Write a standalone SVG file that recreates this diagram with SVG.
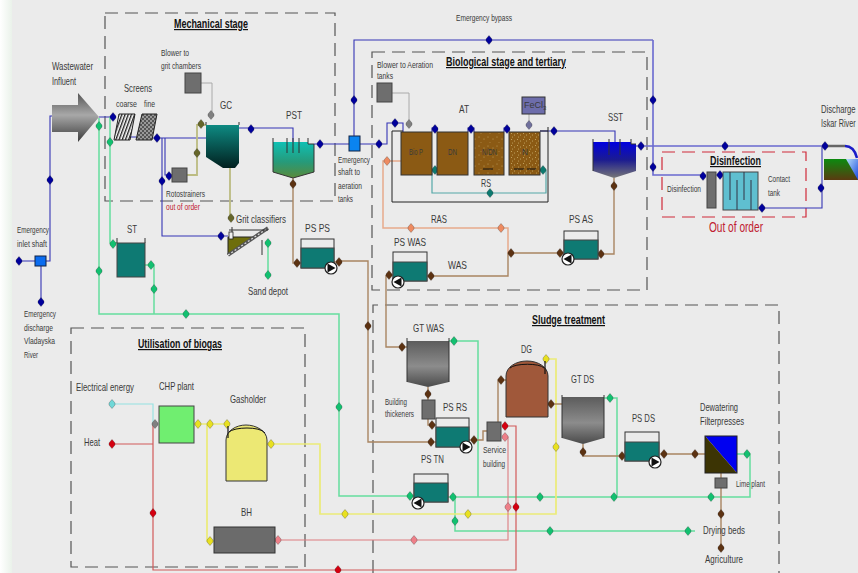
<svg xmlns="http://www.w3.org/2000/svg" xmlns:xlink="http://www.w3.org/1999/xlink" width="858" height="573" viewBox="0 0 858 573">
<style>
text{font-family:"Liberation Sans",Arial,sans-serif;fill:#3a3a3a}
.s{font-size:9px}.m{font-size:11px}
.b{font-size:12px;font-weight:bold;fill:#111;text-decoration:underline}
.r{fill:#c02030}
.fr{fill:none;stroke:#555;stroke-width:1.2;stroke-dasharray:13 7}
.c{fill:none}
.bl{stroke:#3535b5;stroke-width:1.1}.bw{stroke:#6a6ad0;stroke-width:1.6}
.gn{stroke:#66de9e;stroke-width:1.5}.ye{stroke:#ecec78;stroke-width:1.7}
.rd{stroke:#d25a5a;stroke-width:1.2}.pk{stroke:#dd7d80;stroke-width:1.1}
.br{stroke:#a98562;stroke-width:1.4}.ra{stroke:#e8ab8c;stroke-width:1.5}
.ol{stroke:#bcbc82;stroke-width:1.8}.te{stroke:#55a8a8;stroke-width:1.2}
.gy{stroke:#aaa;stroke-width:1}.cy{stroke:#93e2e2;stroke-width:1.1}
.vb{fill:#00009c}.vg{fill:#12c070}.vy{fill:#e8e020}.vr{fill:#d40010}.vp{fill:#ee7f88}
.vn{fill:#5c3212}.vo{fill:#ee8a60}.vl{fill:#66662a}.vt{fill:#0d7a70}.va{fill:#808080}.vc{fill:#70d8d8}.vu{fill:#70709c}
.box{fill:#6e6e6e;stroke:#444;stroke-width:1}
.tk{fill:#0e7a73;stroke:#444;stroke-width:1}
.wl{fill:none;stroke:#333;stroke-width:1}
.p{fill:#fff;stroke:#222;stroke-width:1.2}
</style>
<defs>
<path id="v" d="M0-4.5 3-1V1L0 4.5-3 1V-1Z" stroke="#333" stroke-width=".3"/>
<path id="pr" d="M-3.5-4.5 4.5 0-3.5 4.5Z" fill="#111"/>
<linearGradient id="side" x1="0" y1="0" x2="1" y2="0"><stop offset="0" stop-color="#fff"/><stop offset="1" stop-color="#eaf2ea"/></linearGradient>
<linearGradient id="arr" x1="0" y1="0" x2="0" y2="1"><stop offset="0" stop-color="#555"/><stop offset=".45" stop-color="#a8a8a8"/><stop offset="1" stop-color="#3a3a3a"/></linearGradient>
<linearGradient id="gc" x1="0" y1="0" x2="0" y2="1"><stop offset="0" stop-color="#0e8a82"/><stop offset="1" stop-color="#01201f"/></linearGradient>
<linearGradient id="pst" x1="0" y1="0" x2="0" y2="1"><stop offset="0" stop-color="#0fc0b4"/><stop offset=".55" stop-color="#269a7a"/><stop offset="1" stop-color="#5a8a3a"/></linearGradient>
<linearGradient id="sst" x1="0" y1="0" x2="0" y2="1"><stop offset="0" stop-color="#0000e0"/><stop offset=".5" stop-color="#1c1c90"/><stop offset="1" stop-color="#777"/></linearGradient>
<linearGradient id="gt" x1="0" y1="0" x2="0" y2="1"><stop offset="0" stop-color="#5c5c5c"/><stop offset=".55" stop-color="#8c8c8c"/><stop offset="1" stop-color="#4a4a4a"/></linearGradient>
<linearGradient id="riv" x1="0" y1="0" x2="0" y2="1"><stop offset="0" stop-color="#0c8a10"/><stop offset="1" stop-color="#5a3a10"/></linearGradient>
<linearGradient id="wat" x1="0" y1="0" x2="1" y2="1"><stop offset="0" stop-color="#b8e0f8"/><stop offset="1" stop-color="#1848e0"/></linearGradient>
<pattern id="hatch" width="3" height="3" patternUnits="userSpaceOnUse" patternTransform="rotate(20)"><rect width="3" height="3" fill="#fff"/><rect width="1.4" height="3" fill="#222"/></pattern>
<pattern id="chk" width="4" height="4" patternUnits="userSpaceOnUse"><rect width="4" height="4" fill="#999"/><rect width="2" height="2" fill="#555"/><rect x="2" y="2" width="2" height="2" fill="#555"/></pattern>
<pattern id="sp1" width="9" height="9" patternUnits="userSpaceOnUse"><rect width="9" height="9" fill="#8b5a14"/><circle cx="2" cy="2" r=".4" fill="#f0e0a0"/><circle cx="7" cy="4" r=".4" fill="#f0e0a0"/><circle cx="4" cy="7.5" r=".35" fill="#f0e0a0"/></pattern>
<pattern id="sp2" width="6" height="6" patternUnits="userSpaceOnUse"><rect width="6" height="6" fill="#8b5a14"/><circle cx="1.5" cy="1.5" r=".45" fill="#f6e8a8"/><circle cx="4.5" cy="3" r=".45" fill="#f6e8a8"/><circle cx="2.5" cy="5" r=".4" fill="#f6e8a8"/></pattern>
</defs>
<rect width="858" height="573" fill="#ebebeb"/>
<rect width="12" height="573" fill="url(#side)"/>

<g id="frames">
<rect class="fr" x="105" y="13" width="230" height="188"/>
<rect class="fr" x="372" y="52" width="275" height="238"/>
<rect class="fr" x="71" y="328" width="234" height="239"/>
<path class="fr" d="M373 573V305H779V573"/>
<rect class="fr" x="662" y="152" width="144" height="65" style="stroke:#d02a3a"/>
<text class="b" x="174" y="28" textLength="74" lengthAdjust="spacingAndGlyphs">Mechanical stage</text>
<text class="b" x="446" y="66" textLength="120" lengthAdjust="spacingAndGlyphs">Biological stage and tertiary</text>
<text class="b" x="138" y="348" textLength="84" lengthAdjust="spacingAndGlyphs">Utilisation of biogas</text>
<text class="b" x="532" y="324" textLength="73" lengthAdjust="spacingAndGlyphs">Sludge treatment</text>
<text class="b" x="710" y="165" textLength="51" lengthAdjust="spacingAndGlyphs">Disinfection</text>
</g>

<g id="connectors">
<path class="c bl" d="M19 261H35M46 261H50V116H53M41 266V302M99 117H114M130 137H136M152 138H206M162 138V236H228M165 138V175H172M239 128H293V153M314 144H349M360 144H387V123H403V132M354 136V40H653M432 132V128H437V132M468 132V128H474V132M504 132V128H509V132M540 131H615V148M758 208H822V146M716 175H723"/>
<path class="c bw" d="M653 40V175H703M636 146H823"/>
<path class="c" stroke="#666" stroke-width="2.5" d="M827 146H845"/>
<path class="c gn" d="M99 118V314H339V496H414M110 117V243H117M145 265H154V314M268 240V275M449 341H478V497M448 497H750V454H737M604 398H617V497M455 497V531H695"/>
<path class="c ye" d="M194 424H227M207 424V541H214M267 444H320V514H556V359H546"/>
<path class="c rd" d="M113 444H153M153 424V570H516V426H505"/>
<path class="c pk" d="M275 540H508V437H505"/>
<path class="c cy" d="M113 404H153V424"/>
<path class="c br" d="M293 178V263H301M334 262H340V261H368V442H436M386 275V347H407M393 275H386M427 276H508V253H564M614 178V254H598M428 387V400M428 419V425H436M469 440H483V431H487M498 422V380H506M548 404H562M583 444V456H625M660 454H705M721 473V478M721 488V548"/>
<path class="c ra" d="M508 253V228H383V161H401"/>
<path class="c ol" d="M187 175H197V125H206M230 168V220"/>
<path class="c te" d="M432 170V193H546V170H540"/>
<path class="c gy" d="M201 83H212V112M392 93H409V120M529 114V122"/>
<g id="valves">
<use href="#v" class="vb" x="19" y="261"/><use href="#v" class="vb" x="50" y="180"/><use href="#v" class="vb" x="41" y="302"/><use href="#v" class="vb" x="113" y="117"/><use href="#v" class="vb" x="157" y="138"/><use href="#v" class="vb" x="162" y="181"/><use href="#v" class="vb" x="169" y="176"/><use href="#v" class="vb" x="221" y="236"/><use href="#v" class="vb" x="251" y="129"/><use href="#v" class="vb" x="320" y="144"/><use href="#v" class="vb" x="354" y="100"/><use href="#v" class="vb" x="379" y="144"/><use href="#v" class="vb" x="395" y="123"/><use href="#v" class="vb" x="435" y="129"/><use href="#v" class="vb" x="471" y="129"/><use href="#v" class="vb" x="507" y="129"/><use href="#v" class="vb" x="489" y="40"/><use href="#v" class="vb" x="554" y="131"/><use href="#v" class="vb" x="641" y="146"/><use href="#v" class="vb" x="653" y="100"/><use href="#v" class="vb" x="653" y="167"/><use href="#v" class="vb" x="725" y="146"/><use href="#v" class="vb" x="825" y="146"/><use href="#v" class="vb" x="703" y="176"/><use href="#v" class="vb" x="720" y="175"/><use href="#v" class="vb" x="762" y="208"/><use href="#v" class="vb" x="821" y="188"/>
<use href="#v" class="vg" x="99" y="126"/><use href="#v" class="vg" x="110" y="142"/><use href="#v" class="vg" x="99" y="271"/><use href="#v" class="vg" x="113" y="244"/><use href="#v" class="vg" x="151" y="265"/><use href="#v" class="vg" x="154" y="289"/><use href="#v" class="vg" x="186" y="314"/><use href="#v" class="vg" x="339" y="407"/><use href="#v" class="vg" x="268" y="243"/><use href="#v" class="vg" x="268" y="275"/><use href="#v" class="vg" x="410" y="496"/><use href="#v" class="vg" x="454" y="341"/><use href="#v" class="vg" x="453" y="497"/><use href="#v" class="vg" x="540" y="497"/><use href="#v" class="vg" x="614" y="497"/><use href="#v" class="vg" x="711" y="497"/><use href="#v" class="vg" x="747" y="454"/><use href="#v" class="vg" x="610" y="398"/><use href="#v" class="vg" x="455" y="521"/><use href="#v" class="vg" x="550" y="531"/><use href="#v" class="vg" x="688" y="531"/>
<use href="#v" class="vy" x="198" y="424"/><use href="#v" class="vy" x="210" y="424"/><use href="#v" class="vy" x="227" y="424"/><use href="#v" class="vy" x="210" y="541"/><use href="#v" class="vy" x="271" y="444"/><use href="#v" class="vy" x="345" y="514"/><use href="#v" class="vy" x="468" y="514"/><use href="#v" class="vy" x="556" y="447"/><use href="#v" class="vy" x="546" y="359"/>
<use href="#v" class="vr" x="112" y="444"/><use href="#v" class="vr" x="153" y="513"/><use href="#v" class="vr" x="338" y="570"/><use href="#v" class="vr" x="516" y="507"/><use href="#v" class="vr" x="505" y="426"/>
<use href="#v" class="vp" x="278" y="540"/><use href="#v" class="vp" x="414" y="540"/><use href="#v" class="vp" x="508" y="507"/><use href="#v" class="vp" x="505" y="437"/>
<use href="#v" class="vc" x="112" y="404"/><use href="#v" class="va" x="155" y="424"/><use href="#v" class="va" x="211" y="115"/><use href="#v" class="va" x="409" y="124"/><use href="#v" class="vu" x="529" y="125"/>
<use href="#v" class="vn" x="293" y="184"/><use href="#v" class="vn" x="297" y="263"/><use href="#v" class="vn" x="339" y="262"/><use href="#v" class="vn" x="368" y="326"/><use href="#v" class="vn" x="431" y="442"/><use href="#v" class="vn" x="389" y="275"/><use href="#v" class="vn" x="402" y="347"/><use href="#v" class="vn" x="431" y="276"/><use href="#v" class="vn" x="511" y="253"/><use href="#v" class="vn" x="560" y="253"/><use href="#v" class="vn" x="614" y="186"/><use href="#v" class="vn" x="601" y="254"/><use href="#v" class="vn" x="428" y="394"/><use href="#v" class="vn" x="432" y="425"/><use href="#v" class="vn" x="474" y="440"/><use href="#v" class="vn" x="501" y="380"/><use href="#v" class="vn" x="551" y="404"/><use href="#v" class="vn" x="583" y="452"/><use href="#v" class="vn" x="622" y="456"/><use href="#v" class="vn" x="664" y="454"/><use href="#v" class="vn" x="695" y="454"/><use href="#v" class="vn" x="721" y="514"/><use href="#v" class="vn" x="721" y="548"/>
<use href="#v" class="vo" x="501" y="228"/><use href="#v" class="vo" x="411" y="228"/><use href="#v" class="vo" x="387" y="161"/>
<use href="#v" class="vl" x="197" y="153"/><use href="#v" class="vl" x="201" y="124"/><use href="#v" class="vl" x="231" y="218"/>
<use href="#v" class="vt" x="435" y="170"/><use href="#v" class="vt" x="543" y="170"/><use href="#v" class="vt" x="490" y="193"/>
</g>
</g>

<g id="influent"><path d="M52 105H78V93L99 117 78 142V132H52Z" fill="url(#arr)"/><text class="m" x="52" y="70" textLength="41" lengthAdjust="spacingAndGlyphs">Wastewater</text><text class="m" x="52" y="85" textLength="24" lengthAdjust="spacingAndGlyphs">Influent</text></g>
<g id="emergency-inlet"><rect x="35" y="256" width="11" height="10" fill="#0a6cf0" stroke="#124"/><text class="s" x="17" y="233" textLength="32" lengthAdjust="spacingAndGlyphs">Emergency</text><text class="s" x="17" y="247" textLength="30" lengthAdjust="spacingAndGlyphs">inlet  shaft</text></g>
<g id="emergency-discharge"><text class="s" x="24" y="317" textLength="32" lengthAdjust="spacingAndGlyphs">Emergency</text><text class="s" x="24" y="331" textLength="29" lengthAdjust="spacingAndGlyphs">discharge</text><text class="s" x="24" y="344" textLength="31" lengthAdjust="spacingAndGlyphs">Vladayska</text><text class="s" x="24" y="358" textLength="14" lengthAdjust="spacingAndGlyphs">River</text></g>
<g id="screens">
<path d="M119 114H135L130 140H114Z" fill="url(#hatch)" stroke="#222"/>
<path d="M142 114H157L152 140H136Z" fill="url(#chk)" stroke="#222"/>
<text class="m" x="124" y="92" textLength="28" lengthAdjust="spacingAndGlyphs">Screens</text><text class="s" x="116" y="107" textLength="21" lengthAdjust="spacingAndGlyphs">coarse</text><text class="s" x="144" y="107" textLength="11" lengthAdjust="spacingAndGlyphs">fine</text></g>
<g id="blower-grit"><rect class="box" x="185" y="73" width="16" height="20"/><text class="s" x="161" y="56" textLength="28" lengthAdjust="spacingAndGlyphs">Blower to</text><text class="s" x="161" y="69" textLength="40" lengthAdjust="spacingAndGlyphs">grit chambers</text></g>
<g id="gc"><path d="M206 125H239V163L235 168H223L206 157Z" fill="url(#gc)"/><path class="wl" d="M206 122V125M239 122V125"/><text class="m" x="220" y="109" textLength="12" lengthAdjust="spacingAndGlyphs">GC</text></g>
<g id="pst"><path d="M273 142H308V144H314V172L293 178 273 172Z" fill="url(#pst)"/><path class="wl" d="M273 172V138M314 172V144H308V138M287 138V153M293 138V153M299 138V153M273 172L293 178 314 172"/><text class="m" x="286" y="119" textLength="16" lengthAdjust="spacingAndGlyphs">PST</text></g>
<g id="rotostrainers"><rect class="box" x="172" y="168" width="15" height="14"/><text class="s" x="166" y="197" textLength="39" lengthAdjust="spacingAndGlyphs">Rotostrainers</text><text class="s r" x="166" y="210" textLength="34" lengthAdjust="spacingAndGlyphs">out of order</text></g>
<g id="grit-classifiers">
<path d="M228 237H255L228 255Z" fill="#6e6e0c" stroke="#222"/>
<path d="M228 255L268 228" stroke="#555" stroke-width="3.5" fill="none"/>
<path d="M228 255L268 228" stroke="#ddd" stroke-width="1.2" stroke-dasharray="2 2" fill="none"/>
<path class="wl" d="M229 230H268M262 240V255M232 227V237"/>
<rect x="229" y="232" width="4" height="7" fill="#eee" stroke="#222" stroke-width=".8"/>
<text class="m" x="236" y="223" textLength="50" lengthAdjust="spacingAndGlyphs">Grit classifiers</text></g>
<g id="sand-depot"><text class="m" x="248" y="295" textLength="40" lengthAdjust="spacingAndGlyphs">Sand depot</text></g>
<g id="st"><rect class="tk" x="117" y="243" width="28" height="34"/><path class="wl" d="M117 243V238M145 243V238"/><text class="m" x="127" y="233" textLength="10" lengthAdjust="spacingAndGlyphs">ST</text></g>
<g id="ps-ps"><rect x="301" y="239" width="33" height="29" fill="#ebebeb" stroke="#333"/><rect class="tk" x="301" y="248" width="33" height="20"/><circle class="p" cx="331" cy="268" r="6"/><use href="#pr" x="331" y="268"/><text class="m" x="305" y="232" textLength="25" lengthAdjust="spacingAndGlyphs">PS PS</text></g>
<g id="shaft-aeration"><rect x="349" y="136" width="11" height="15" fill="#0a84f0" stroke="#124"/><text class="s" x="338" y="163" textLength="32" lengthAdjust="spacingAndGlyphs">Emergency</text><text class="s" x="338" y="175" textLength="22" lengthAdjust="spacingAndGlyphs">shaft to</text><text class="s" x="338" y="189" textLength="24" lengthAdjust="spacingAndGlyphs">aeration</text><text class="s" x="338" y="202" textLength="15" lengthAdjust="spacingAndGlyphs">tanks</text></g>
<g id="bypass-label"><text class="s" x="456" y="21" textLength="56" lengthAdjust="spacingAndGlyphs">Emergency bypass</text></g>
<g id="blower-aeration"><rect class="box" x="377" y="83" width="15" height="19"/><text class="s" x="377" y="68" textLength="56" lengthAdjust="spacingAndGlyphs">Blower to Aeration</text><text class="s" x="377" y="79" textLength="16" lengthAdjust="spacingAndGlyphs">tanks</text></g>
<g id="at">
<path d="M392 131H403M392 131V202H548V127M540 131H548" fill="none" stroke="#222" stroke-width="1"/>
<rect x="401" y="132" width="31" height="43" fill="#8b5a14" stroke="#333"/>
<rect x="437" y="132" width="31" height="43" fill="#8b5a14" stroke="#333"/>
<rect x="474" y="132" width="30" height="43" fill="url(#sp1)" stroke="#333"/>
<rect x="509" y="132" width="31" height="43" fill="url(#sp2)" stroke="#333"/>
<path d="M483 169H493M514 169H524M527 169H536" stroke="#111" fill="none"/>
<text class="s" x="409" y="155" textLength="14" lengthAdjust="spacingAndGlyphs">Bio P</text><text class="s" x="448" y="155" textLength="9" lengthAdjust="spacingAndGlyphs">DN</text><text class="s" x="482" y="155" textLength="15" lengthAdjust="spacingAndGlyphs">N/DN</text><text class="s" x="522" y="155" textLength="6" lengthAdjust="spacingAndGlyphs">N</text>
<text class="m" x="459" y="113" textLength="10" lengthAdjust="spacingAndGlyphs">AT</text><text class="m" x="481" y="187" textLength="10" lengthAdjust="spacingAndGlyphs">RS</text></g>
<g id="fecl3"><rect x="522" y="97" width="23" height="17" fill="#6d6dab" stroke="#333"/><text class="s" x="524" y="108">FeCl<tspan font-size="6" dy="2">3</tspan></text></g>
<g id="sst"><path d="M593 142H631V144H636V171L614 178 593 171Z" fill="url(#sst)"/><path class="wl" d="M593 171V139M636 144H631V139M609 139V155M620 139V155"/><text class="m" x="608" y="121" textLength="15" lengthAdjust="spacingAndGlyphs">SST</text></g>
<g id="ras-was"><text class="m" x="431" y="223" textLength="16" lengthAdjust="spacingAndGlyphs">RAS</text><text class="m" x="448" y="269" textLength="19" lengthAdjust="spacingAndGlyphs">WAS</text></g>
<g id="ps-was"><rect x="393" y="252" width="34" height="29" fill="#ebebeb" stroke="#333"/><rect class="tk" x="393" y="262" width="34" height="19"/><circle class="p" cx="398" cy="282" r="6"/><use href="#pr" transform="translate(398 282) rotate(180)"/><text class="m" x="394" y="246" textLength="32" lengthAdjust="spacingAndGlyphs">PS WAS</text></g>
<g id="ps-as"><rect x="564" y="231" width="34" height="28" fill="#ebebeb" stroke="#333"/><rect class="tk" x="564" y="240" width="34" height="19"/><circle class="p" cx="568" cy="259" r="6"/><use href="#pr" transform="translate(568 259) rotate(180)"/><text class="m" x="569" y="223" textLength="24" lengthAdjust="spacingAndGlyphs">PS AS</text></g>
<g id="disinfection"><rect x="707" y="172" width="9" height="36" fill="#6e6e6e" stroke="#444"/><text class="s" x="667" y="192" textLength="34" lengthAdjust="spacingAndGlyphs">Disinfection</text></g>
<g id="contact-tank"><rect x="723" y="172" width="35" height="38" fill="#5fbfd0" stroke="#444"/><path d="M730 172V200M737 180V210M744 172V200M751 180V210" stroke="#334" fill="none"/><text class="s" x="768" y="182" textLength="22" lengthAdjust="spacingAndGlyphs">Contact</text><text class="s" x="768" y="196" textLength="12" lengthAdjust="spacingAndGlyphs">tank</text></g>
<text class="r" x="709" y="232" font-size="14" textLength="54" lengthAdjust="spacingAndGlyphs">Out of order</text>
<g id="discharge">
<rect x="824" y="159" width="34" height="21" fill="url(#riv)"/>
<path d="M846 159H858V180Z" fill="url(#wat)"/>
<path d="M845 146C851 146 855 150 857 158" fill="none" stroke="#1c1cc8" stroke-width="2.5"/>
<text class="m" transform="translate(821 113) scale(.7 1)">Discharge</text><text class="m" transform="translate(821 127) scale(.66 1)">Iskar River</text></g>
<g id="gt-was"><path d="M407 341H449V382L428 387 407 382Z" fill="url(#gt)"/><path class="wl" d="M407 338V382M449 338V382"/><text class="m" x="413" y="332" textLength="31" lengthAdjust="spacingAndGlyphs">GT WAS</text></g>
<g id="thickeners"><rect class="box" x="422" y="400" width="13" height="19"/><text class="s" x="385" y="405" textLength="22" lengthAdjust="spacingAndGlyphs">Building</text><text class="s" x="385" y="417" textLength="29" lengthAdjust="spacingAndGlyphs">thickeners</text></g>
<g id="ps-rs"><rect x="436" y="418" width="33" height="29" fill="#ebebeb" stroke="#333"/><rect class="tk" x="436" y="427" width="33" height="20"/><circle class="p" cx="466" cy="447" r="6"/><use href="#pr" x="466" y="447"/><text class="m" x="443" y="411" textLength="24" lengthAdjust="spacingAndGlyphs">PS RS</text></g>
<g id="ps-tn"><rect x="414" y="474" width="34" height="28" fill="#ebebeb" stroke="#333"/><rect class="tk" x="414" y="483" width="34" height="19"/><circle class="p" cx="418" cy="503" r="6"/><use href="#pr" transform="translate(418 503) rotate(180)"/><text class="m" x="421" y="463" textLength="23" lengthAdjust="spacingAndGlyphs">PS TN</text></g>
<g id="service"><rect class="box" x="487" y="422" width="14" height="19"/><text class="s" x="483" y="453" textLength="23" lengthAdjust="spacingAndGlyphs">Service</text><text class="s" x="483" y="467" textLength="22" lengthAdjust="spacingAndGlyphs">building</text></g>
<g id="dg"><path d="M506 417V376C506 367 516 361 527 361S548 367 548 376V417Z" fill="#a0583a" stroke="#333"/><path d="M545 361V374" stroke="#111" stroke-width="1.2"/><path d="M510 368C515 363 540 363 544 368" fill="none" stroke="#111"/><text class="m" x="521" y="353" textLength="11" lengthAdjust="spacingAndGlyphs">DG</text></g>
<g id="gt-ds"><path d="M562 397H604V438L583 444 562 438Z" fill="url(#gt)"/><path class="wl" d="M562 395V438M604 395V438"/><text class="m" x="571" y="383" textLength="23" lengthAdjust="spacingAndGlyphs">GT DS</text></g>
<g id="ps-ds"><rect x="625" y="432" width="34" height="29" fill="#ebebeb" stroke="#333"/><rect class="tk" x="625" y="442" width="34" height="19"/><circle class="p" cx="655" cy="462" r="6"/><use href="#pr" x="655" y="462"/><text class="m" x="632" y="422" textLength="23" lengthAdjust="spacingAndGlyphs">PS DS</text></g>
<g id="filterpress"><path d="M705 436H737V473Z" fill="#0000f0"/><path d="M705 436V473H737Z" fill="#3c3404"/><rect x="705" y="436" width="32" height="37" fill="none" stroke="#222"/><text class="m" x="700" y="411" textLength="38" lengthAdjust="spacingAndGlyphs">Dewatering</text><text class="m" x="700" y="425" textLength="44" lengthAdjust="spacingAndGlyphs">Filterpresses</text></g>
<g id="lime-plant"><rect class="box" x="715" y="478" width="12" height="10"/><text class="s" x="736" y="487" textLength="29" lengthAdjust="spacingAndGlyphs">Lime plant</text></g>
<g id="drying-beds"><text class="m" x="703" y="534" textLength="42" lengthAdjust="spacingAndGlyphs">Drying beds</text></g>
<g id="agriculture"><text class="m" x="705" y="563" textLength="38" lengthAdjust="spacingAndGlyphs">Agriculture</text></g>
<g id="electrical"><text class="m" x="76" y="391" textLength="58" lengthAdjust="spacingAndGlyphs">Electrical energy</text></g>
<g id="heat"><text class="m" x="84" y="446" textLength="16" lengthAdjust="spacingAndGlyphs">Heat</text></g>
<g id="chp"><rect x="159" y="406" width="35" height="37" fill="#70ee70" stroke="#444"/><text class="m" x="159" y="390" textLength="35" lengthAdjust="spacingAndGlyphs">CHP plant</text></g>
<g id="gasholder"><path d="M226 481V440C226 431 236 425 246 425S267 431 267 440V481Z" fill="#ece874" stroke="#333"/><path d="M229 432C234 427 260 426 265 433" fill="none" stroke="#111"/><path d="M228 426V438" stroke="#111" stroke-width="1.2"/><text class="m" x="230" y="403" textLength="36" lengthAdjust="spacingAndGlyphs">Gasholder</text></g>
<g id="bh"><rect x="214" y="527" width="61" height="26" fill="#6b6b6b" stroke="#333"/><text class="m" x="241" y="516" textLength="11" lengthAdjust="spacingAndGlyphs">BH</text></g>
</svg>
